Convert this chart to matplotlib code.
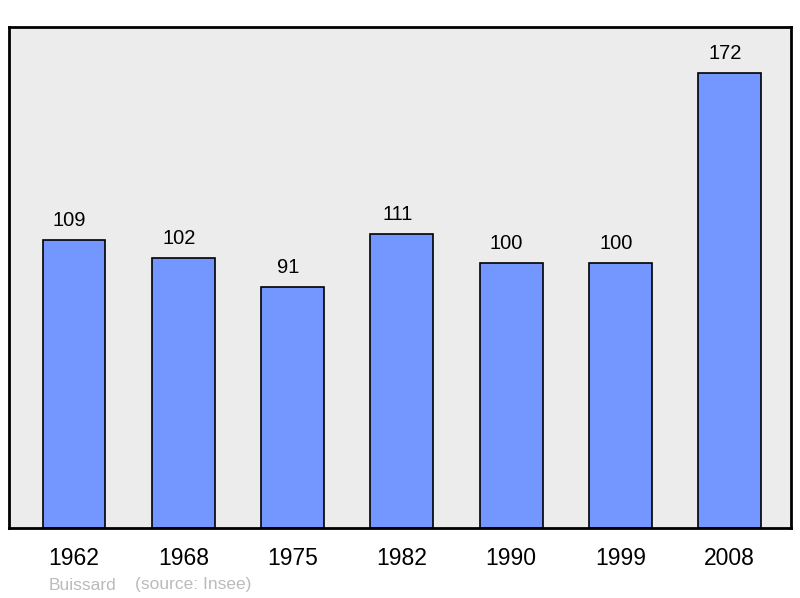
import matplotlib.pyplot as plt

plt.rcParams['font.family'] = ['Liberation Sans', 'DejaVu Sans']

years = ["1962", "1968", "1975", "1982", "1990", "1999", "2008"]
population = [109, 102, 91, 111, 100, 100, 172]

fig = plt.figure(figsize=(8, 5.98), dpi=100)
ax = fig.add_axes([9 / 800, 70 / 598, 782 / 800, 501 / 598])
ax.set_facecolor("#ececec")

x = range(len(years))
bars = ax.bar(x, population, width=0.575, color="#7396ff",
              edgecolor="black", linewidth=1.2, zorder=2)

# value labels sit a little left of the bar centre, as in the original
for bar, v in zip(bars, population):
    ax.annotate(str(v), (bar.get_x() + bar.get_width() / 2, bar.get_height()),
                xytext=(-3.3, 7.3), textcoords="offset points",
                ha="center", va="bottom", fontsize=14.5)

ax.set_xlim(-0.595, 6.56)
ax.set_ylim(0, 189.4)
ax.set_xticks(list(x))
ax.set_xticklabels(years, fontsize=16.5)
ax.set_yticks([])
ax.tick_params(axis="x", length=0, pad=14)
for s in ax.spines.values():
    s.set_linewidth(2)

fig.text(49 / 800, 1 - 585 / 598, "Buissard", color="#bbbbbb",
         fontsize=12.5, va="center", ha="left")
fig.text(135 / 800, 1 - 585 / 598, "(source: Insee)", color="#bbbbbb",
         fontsize=12.5, va="center", ha="left")

fig.savefig("out.png", dpi=100)
